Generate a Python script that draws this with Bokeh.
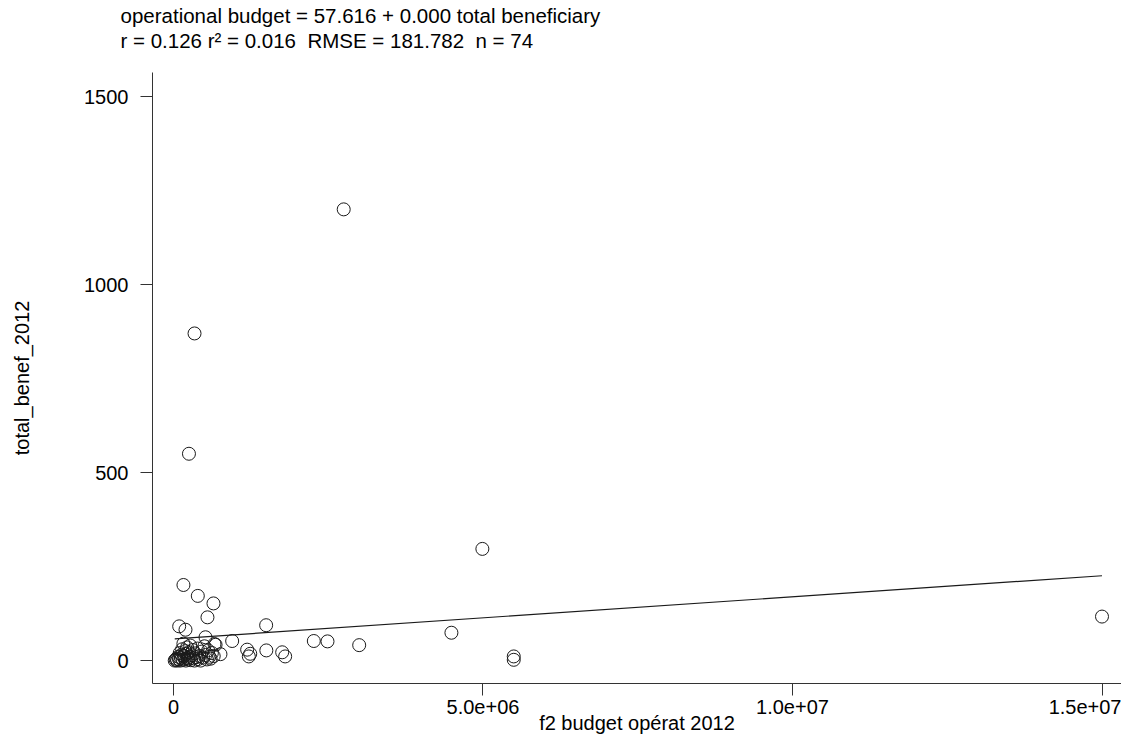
from bokeh.plotting import figure
from bokeh.models import Range1d, FixedTicker, Title, ColumnDataSource
from bokeh.embed import file_html
from bokeh.resources import INLINE

# ---- data ----
budget = [2750000, 340000, 250000, 4990000, 15000000, 161000, 393000, 646000,
          549000, 92000, 194000, 517000, 948000, 1497000, 4490000, 2267000,
          2488000, 3000000, 5497000, 5497000, 1500000, 1756000, 1804000,
          1190000, 1217000, 1240000, 759000, 662000,
          20000, 35000, 50000, 60000, 80000, 90000, 100000, 110000, 120000,
          130000, 140000, 150000, 160000, 170000, 180000, 190000, 200000,
          210000, 220000, 230000, 240000, 250000, 260000, 270000, 280000,
          300000, 310000, 320000, 340000, 350000, 370000, 390000, 400000,
          420000, 440000, 460000, 480000, 500000, 520000, 540000, 560000,
          580000, 600000, 620000, 650000, 680000]
benef = [1200, 870, 550, 297, 117, 201, 172, 152,
         115, 91, 82, 62, 52, 94, 74, 52,
         51, 41, 11, 2, 27, 22, 11,
         29, 11, 18, 17, 44,
         0, 2, 5, 0, 10, 3, 20, 0, 8,
         15, 30, 2, 45, 12, 5, 25, 0,
         18, 35, 7, 3, 22, 10, 40, 1,
         14, 28, 6, 0, 19, 9, 32, 4,
         12, 0, 24, 8, 38, 15, 3, 27,
         10, 5, 20, 12, 42]

fit_intercept = 57.616
fit_slope = 1.12e-5

x_ticks = [0, 5000000, 10000000, 15000000]
x_tick_labels = ["0", "5.0e+06", "1.0e+07", "1.5e+07"]
y_ticks = [0, 500, 1000, 1500]
y_tick_labels = ["0", "500", "1000", "1500"]

title_lines = ["operational budget = 57.616 + 0.000 total beneficiary",
               "r = 0.126 r\u00b2 = 0.016 \u00a0RMSE = 181.782 \u00a0n = 74"]
x_label = "f2 budget op\u00e9rat 2012"
y_label = "total_benef_2012"

FONT = "Liberation Sans"

p = figure(width=1121, height=745, output_backend="svg", toolbar_location=None,
           x_range=Range1d(-339000, 15315000), y_range=Range1d(-61, 1564),
           min_border_left=152, min_border_right=0, min_border_top=72,
           min_border_bottom=62)
p.outline_line_color = None
p.background_fill_color = "white"
p.border_fill_color = "white"
p.xgrid.visible = False
p.ygrid.visible = False

src = ColumnDataSource(dict(x=budget, y=benef))
p.scatter("x", "y", source=src, marker="circle", size=13, fill_color=None,
          line_color="#1a1a1a", line_width=1)

xmin, xmax = min(budget), max(budget)
p.line([xmin, xmax], [fit_intercept + fit_slope * xmin, fit_intercept + fit_slope * xmax],
       line_color="#1a1a1a", line_width=1.2)

for ax in (p.xaxis[0], p.yaxis[0]):
    ax.axis_line_color = "#333333"
    ax.axis_line_width = 1
    ax.major_tick_line_color = "#333333"
    ax.minor_tick_line_color = None
    ax.major_tick_in = 0
    ax.major_tick_out = 12
    ax.major_label_text_font = FONT
    ax.major_label_text_font_size = "20px"
    ax.major_label_text_color = "black"
    ax.axis_label_text_font = FONT
    ax.axis_label_text_font_size = "20px"
    ax.axis_label_text_font_style = "normal"
    ax.axis_label_text_color = "black"

p.xaxis[0].ticker = FixedTicker(ticks=x_ticks)
p.xaxis[0].major_label_overrides = dict(zip(x_ticks, x_tick_labels))
p.xaxis[0].major_label_standoff = 4
p.xaxis[0].axis_label = x_label
p.xaxis[0].axis_label_standoff = -5

p.yaxis[0].ticker = FixedTicker(ticks=y_ticks)
p.yaxis[0].major_label_overrides = dict(zip(y_ticks, y_tick_labels))
p.yaxis[0].major_label_standoff = 12
p.yaxis[0].axis_label = y_label
p.yaxis[0].axis_label_standoff = 48

# spacer between the frame and the two title lines
p.add_layout(Title(text=" ", text_font_size="10px", standoff=8), "above")
for line in reversed(title_lines):
    t = Title(text=line, align="left", offset=-32, text_font=FONT,
              text_font_size="20.5px", text_font_style="normal", text_color="black",
              standoff=0)
    p.add_layout(t, "above")

open("out.html", "w").write(file_html(p, INLINE))
